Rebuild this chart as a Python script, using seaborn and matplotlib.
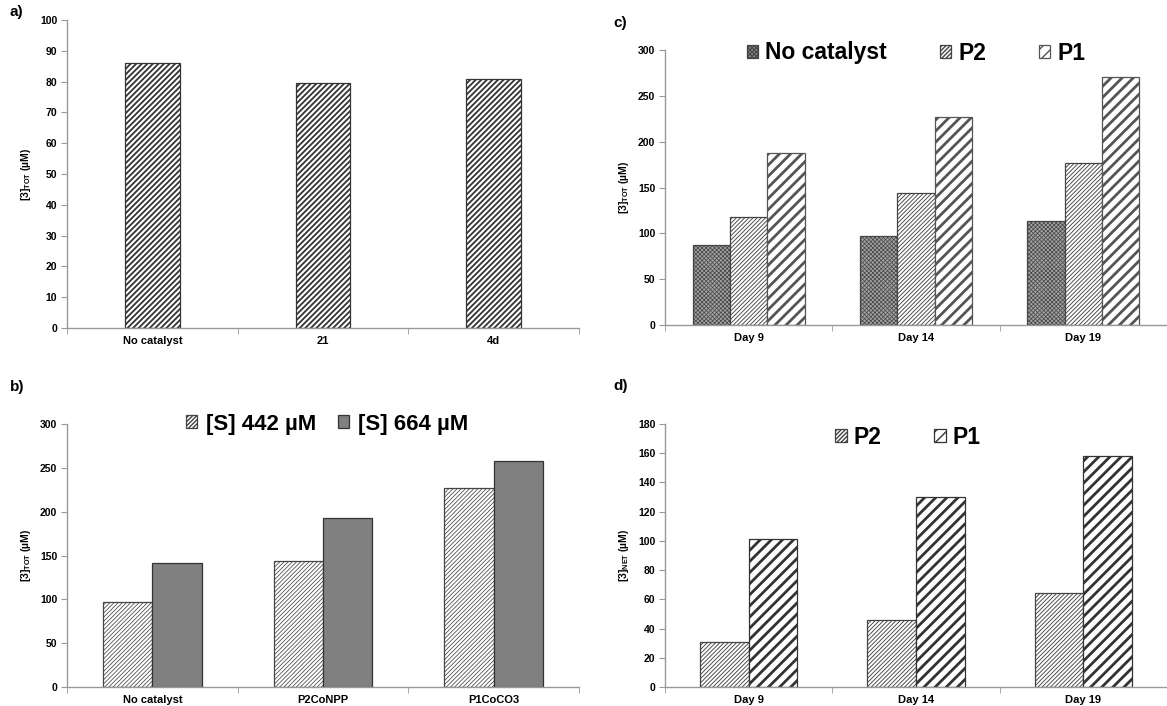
import numpy as np
import pandas as pd
import seaborn as sns
import matplotlib
matplotlib.use("Agg")
import matplotlib.pyplot as plt

# data
a_cats = ["No catalyst", "21", "4d"]
a_vals = [86, 79.5, 81]

b_cats = ["No catalyst", "P2CoNPP", "P1CoCO3"]
b_442 = [97, 144, 227]
b_664 = [141, 193, 258]

days = ["Day 9", "Day 14", "Day 19"]
c_none = [87, 97, 113]
c_p2 = [118, 144, 177]
c_p1 = [188, 227, 271]

d_p2 = [31, 46, 64]
d_p1 = [101, 130, 158]

sns.set_style("white")
plt.rcParams['font.family'] = ['Liberation Sans', 'DejaVu Sans']
plt.rcParams['mathtext.default'] = 'regular'
plt.rcParams['text.color'] = 'black'
plt.rcParams['axes.labelcolor'] = 'black'
plt.rcParams['xtick.labelcolor'] = 'black'
plt.rcParams['ytick.labelcolor'] = 'black'

W, H = 1167, 706
fig = plt.figure(figsize=(W / 100, H / 100), dpi=100)
fig.patch.set_facecolor("white")


def box(left, top, right, bottom):
    return [left / W, 1 - bottom / H, (right - left) / W, (bottom - top) / H]


def style_bar(p, face, edge, hatch=None, hcolor=None, hlw=1.0):
    p.set_facecolor(face)
    p.set_edgecolor(edge)
    p.set_linewidth(0.9)
    if hatch:
        p.set_hatch(hatch)
        if hasattr(p, "set_hatchcolor"):
            p.set_hatchcolor(hcolor or edge)
        if hasattr(p, "set_hatch_linewidth"):
            p.set_hatch_linewidth(hlw)
        else:
            p._hatch_linewidth = hlw


def frame(ax, ymax, ystep, ylab, xright=2.5):
    ax.set_ylim(0, ymax)
    ax.set_yticks(np.arange(0, ymax + 1, ystep))
    ax.set_xlim(-0.5, xright)
    ax.set_xlabel("")
    ax.set_ylabel(ylab, fontsize=7.5, fontweight="bold", labelpad=5)
    for s in ["top", "right"]:
        ax.spines[s].set_visible(False)
    for s in ["left", "bottom"]:
        ax.spines[s].set_color("#999999")
        ax.spines[s].set_linewidth(1.0)
    ax.tick_params(axis="y", direction="out", length=4, color="#999999",
                   labelsize=7.5, pad=3, left=True)
    ax.tick_params(axis="x", which="major", length=0, labelsize=8, pad=6)
    ax.set_xticks([-0.5, 0.5, 1.5, 2.5], minor=True)
    ax.tick_params(axis="x", which="minor", direction="out", length=4,
                   color="#999999", bottom=True)
    for t in ax.get_xticklabels() + ax.get_yticklabels():
        t.set_fontweight("bold")


FINE = "////////"

# ---- a)
ax_a = fig.add_axes(box(67, 20, 579, 328))
dfa = pd.DataFrame({"cat": a_cats, "val": a_vals})
sns.barplot(data=dfa, x="cat", y="val", width=0.32, ax=ax_a)
for p in ax_a.patches:
    style_bar(p, "white", "#333333", "//////", "#2e2e2e", 1.3)
frame(ax_a, 100, 10, "[3]$_{TOT}$ (µM)")

# ---- b)
ax_b = fig.add_axes(box(67, 424, 579, 687))
dfb = pd.DataFrame({"cat": b_cats * 2,
                    "val": b_442 + b_664,
                    "grp": ["[S] 442 µM"] * 3 + ["[S] 664 µM"] * 3})
sns.barplot(data=dfb, x="cat", y="val", hue="grp", width=0.58, ax=ax_b,
            palette=["white", "#808080"], legend=False)
for p in ax_b.containers[0]:
    style_bar(p, "white", "#444444", FINE, "#808080", 0.55)
for p in ax_b.containers[1]:
    style_bar(p, "#808080", "#333333")
frame(ax_b, 300, 50, "[3]$_{TOT}$ (µM)")
ax_b.legend([ax_b.containers[0][0], ax_b.containers[1][0]],
            ["[S] 442 µM", "[S] 664 µM"], loc="center",
            bbox_to_anchor=(327 / W, 1 - 424 / H), bbox_transform=fig.transFigure,
            ncol=2, frameon=False, prop={"size": 16, "weight": "bold"},
            handlelength=0.5, handleheight=0.5, handletextpad=0.4, columnspacing=1.0)

# ---- c)
xr = -0.5 + 502 / (512 / 3)
ax_c = fig.add_axes(box(665, 50, 1167, 325))
dfc = pd.DataFrame({"day": days * 3,
                    "val": c_none + c_p2 + c_p1,
                    "grp": ["No catalyst"] * 3 + ["P2"] * 3 + ["P1"] * 3})
sns.barplot(data=dfc, x="day", y="val", hue="grp", width=0.67, ax=ax_c,
            palette=["#888888", "white", "white"], legend=False)
for p in ax_c.containers[0]:
    style_bar(p, "#a2a2a2", "#444444", "xxxxxxxx", "#626262", 0.5)
for p in ax_c.containers[1]:
    style_bar(p, "white", "#444444", FINE, "#6e6e6e", 0.65)
for p in ax_c.containers[2]:
    style_bar(p, "white", "#555555", "///", "#7a7a7a", 2.0)
frame(ax_c, 300, 50, "[3]$_{TOT}$ (µM)", xr)
ax_c.legend([ax_c.containers[i][0] for i in range(3)],
            ["No catalyst", "P2", "P1"], loc="center",
            bbox_to_anchor=(916 / W, 1 - 53 / H), bbox_transform=fig.transFigure,
            ncol=3, frameon=False, prop={"size": 16.5, "weight": "bold"},
            handlelength=0.5, handleheight=0.5, handletextpad=0.3, columnspacing=2.3)

# ---- d)
ax_d = fig.add_axes(box(665, 424, 1167, 687))
dfd = pd.DataFrame({"day": days * 2,
                    "val": d_p2 + d_p1,
                    "grp": ["P2"] * 3 + ["P1"] * 3})
sns.barplot(data=dfd, x="day", y="val", hue="grp", width=0.58, ax=ax_d,
            palette=["white", "white"], legend=False)
for p in ax_d.containers[0]:
    style_bar(p, "white", "#444444", FINE, "#6e6e6e", 0.65)
for p in ax_d.containers[1]:
    style_bar(p, "white", "#333333", "///", "#2e2e2e", 2.0)
frame(ax_d, 180, 20, "[3]$_{NET}$ (µM)", xr)
ax_d.legend([ax_d.containers[0][0], ax_d.containers[1][0]],
            ["P2", "P1"], loc="center",
            bbox_to_anchor=(908 / W, 1 - 437 / H), bbox_transform=fig.transFigure,
            ncol=2, frameon=False, prop={"size": 16.5, "weight": "bold"},
            handlelength=0.5, handleheight=0.5, handletextpad=0.3, columnspacing=2.3)

# panel letters
for lab, x, y in [("a)", 10, 12), ("b)", 10, 387), ("c)", 613, 23), ("d)", 613, 386)]:
    fig.text(x / W, 1 - y / H, lab, fontsize=11, fontweight="bold", va="center")

fig.savefig("out.png", dpi=100, facecolor="white")
